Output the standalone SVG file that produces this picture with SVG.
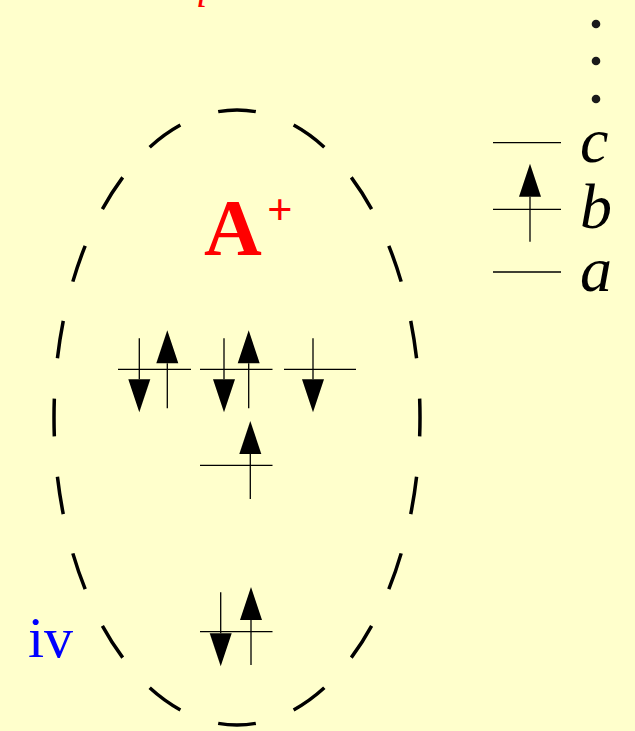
<svg xmlns="http://www.w3.org/2000/svg" width="635" height="731" viewBox="0 0 635 731">
<style>
.ln{stroke:#000;stroke-width:1.3;fill:none}
.hd{fill:#000;stroke:none}
.lbl{font-family:"Liberation Serif","Times New Roman",serif;font-style:italic;font-size:64px;fill:#000}
</style>
<defs>
<g id="up"><line class="ln" x1="0" y1="0" x2="0" y2="-45"/><polygon class="hd" points="0,-78 -11,-45 11,-45"/></g>
<g id="dn"><line class="ln" x1="0" y1="0" x2="0" y2="41"/><polygon class="hd" points="0,74 -11,41 11,41"/></g>
</defs>
<rect width="635" height="731" fill="#ffffcc"/>
<text x="196" y="7" font-family="Liberation Serif, serif" font-style="italic" font-size="40" fill="#ff0000">i</text>
<g id="atom-boundary">
<path d="M237,110 A183,307.5 0 0 1 420,417.5 A183,307.5 0 0 1 237,725 A183,307.5 0 0 1 54,417.5 A183,307.5 0 0 1 237,110 Z" pathLength="1570" fill="none" stroke="#000" stroke-width="3.5" stroke-dasharray="38 40.5" stroke-dashoffset="19"/>
</g>
<g id="label-A">
<text x="204" y="255" font-family="Liberation Serif, serif" font-weight="bold" font-size="80" fill="#ff0000">A</text>
<text x="267" y="223.6" font-family="Liberation Serif, serif" font-weight="bold" font-size="45" fill="#ff0000">+</text>
</g>
<g id="orbital-upper">
<line class="ln" x1="118" y1="369.3" x2="191" y2="369.3"/>
<line class="ln" x1="200" y1="369.3" x2="272.5" y2="369.3"/>
<line class="ln" x1="284" y1="369.3" x2="356" y2="369.3"/>
<use href="#dn" x="139.3" y="338.3"/>
<use href="#up" x="167.3" y="408.3"/>
<use href="#dn" x="224" y="338.3"/>
<use href="#up" x="248.7" y="408.3"/>
<use href="#dn" x="313" y="338.3"/>
</g>
<g id="orbital-middle">
<line class="ln" x1="200" y1="465.3" x2="272.5" y2="465.3"/>
<use href="#up" x="250.3" y="499"/>
</g>
<g id="orbital-lower">
<line class="ln" x1="200" y1="631.7" x2="272.5" y2="631.7"/>
<use href="#dn" x="220.7" y="592.3"/>
<use href="#up" x="251" y="665"/>
</g>
<g id="label-iv">
<text x="28" y="657" font-family="Liberation Serif, serif" font-size="58" fill="#0000ff">iv</text>
</g>
<g id="levels">
<circle cx="596" cy="24" r="4.3" fill="#1a1a1a"/>
<circle cx="596" cy="61" r="4.3" fill="#1a1a1a"/>
<circle cx="596" cy="99" r="4.3" fill="#1a1a1a"/>
<line class="ln" x1="493" y1="142.7" x2="561" y2="142.7"/>
<line class="ln" x1="493" y1="209.3" x2="561" y2="209.3"/>
<line class="ln" x1="493" y1="272" x2="561" y2="272"/>
<use href="#up" x="530" y="241.7"/>
<text class="lbl" x="580" y="162">c</text>
<text class="lbl" x="580" y="228">b</text>
<text class="lbl" x="580" y="291">a</text>
</g>
</svg>
